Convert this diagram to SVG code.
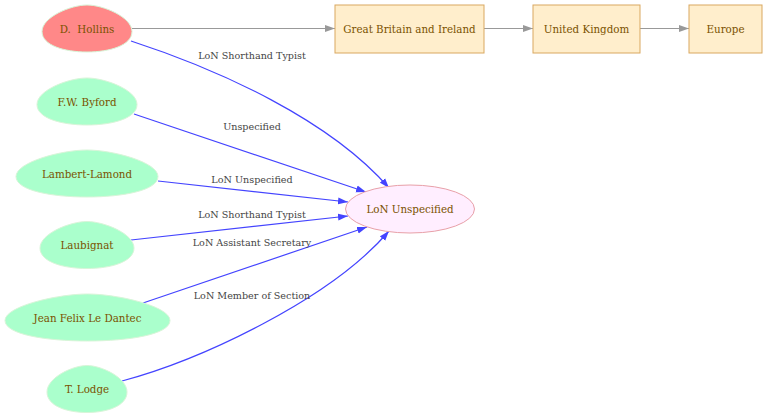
<svg xmlns="http://www.w3.org/2000/svg" width="767" height="419" viewBox="0 0 767 419">
<style>
.egg{stroke:#d8f5d8;stroke-width:1}
.person{fill:#aaffcc}
.red{fill:#ff8888}
.box{fill:#ffeecc;stroke:#d9a860;stroke-width:1}
.target{fill:#ffeeff;stroke:#e8a0a8;stroke-width:1}
.nt{font-family:"DejaVu Serif","Liberation Serif",serif;font-size:10.3px;fill:#7a5200;text-anchor:middle;dominant-baseline:central;white-space:pre}
.lbl{font-family:"DejaVu Serif","Liberation Serif",serif;font-size:9.6px;fill:#444;text-anchor:middle}
.blue{fill:none;stroke:#4444ff;stroke-width:1.2}
.gray{fill:none;stroke:#999999;stroke-width:1.2}
</style>
<defs>
<marker id="ab" markerWidth="10" markerHeight="8" refX="10" refY="4" orient="auto" markerUnits="userSpaceOnUse"><path d="M0,0.5 L10,4 L0,7.5 Z" fill="#4444ff"/></marker>
<marker id="ag" markerWidth="10" markerHeight="8" refX="10" refY="4" orient="auto" markerUnits="userSpaceOnUse"><path d="M0,0.5 L10,4 L0,7.5 Z" fill="#999999"/></marker>
</defs>
<g id="connectors">
<path class="gray" d="M132,28.5 L335,28.5" marker-end="url(#ag)"/>
<path class="gray" d="M484,28.5 L533,28.5" marker-end="url(#ag)"/>
<path class="gray" d="M640,28.5 L689,28.5" marker-end="url(#ag)"/>
<path class="blue" d="M131,41 C220,70 330,120 389,188" marker-end="url(#ab)"/>
<text class="lbl" x="252" y="59">LoN Shorthand Typist</text>
<path class="blue" d="M134,114 L366,192" marker-end="url(#ab)"/>
<text class="lbl" x="252" y="130">Unspecified</text>
<path class="blue" d="M158,181 L348,202" marker-end="url(#ab)"/>
<text class="lbl" x="252" y="183">LoN Unspecified</text>
<path class="blue" d="M131,240 L348,216" marker-end="url(#ab)"/>
<text class="lbl" x="252" y="218">LoN Shorthand Typist</text>
<path class="blue" d="M143,303 L367,227" marker-end="url(#ab)"/>
<text class="lbl" x="252" y="246">LoN Assistant Secretary</text>
<path class="blue" d="M122,381 C200,360 330,300 389,231" marker-end="url(#ab)"/>
<text class="lbl" x="252" y="299">LoN Member of Section</text>
</g>
<g id="hollins">
<path class="egg red" d="M42,31.5 C42,17 71,5 87,5 C103,5 132,17 132,31.5 C132,45.5 109.5,52 87,52 C64.5,52 42,45.5 42,31.5 Z"/>
<text class="nt" x="87" y="28.5" xml:space="preserve">D.  Hollins</text>
</g>
<g id="byford">
<path class="egg person" d="M37,104.5 C37,90 69,78 87,78 C105,78 137,90 137,104.5 C137,118.5 112,125 87,125 C62,125 37,118.5 37,104.5 Z"/>
<text class="nt" x="87" y="101.5">F.W. Byford</text>
</g>
<g id="lambert">
<path class="egg person" d="M16,176.5 C16,162 62,150 87,150 C112,150 158,162 158,176.5 C158,190.5 122.5,197 87,197 C51.5,197 16,190.5 16,176.5 Z"/>
<text class="nt" x="87" y="173.5">Lambert-Lamond</text>
</g>
<g id="laubignat">
<path class="egg person" d="M40,248 C40,233.5 70.5,221.5 87,221.5 C103.5,221.5 134,233.5 134,248 C134,262 110.5,268.5 87,268.5 C63.5,268.5 40,262 40,248 Z"/>
<text class="nt" x="87" y="245">Laubignat</text>
</g>
<g id="dantec">
<path class="egg person" d="M5,320.5 C5,306 58.5,294 87.5,294 C116.5,294 170,306 170,320.5 C170,334.5 128.75,341 87.5,341 C46.25,341 5,334.5 5,320.5 Z"/>
<text class="nt" x="87.5" y="317.5">Jean Felix Le Dantec</text>
</g>
<g id="lodge">
<path class="egg person" d="M47,392 C47,377.5 73,365.5 87,365.5 C101,365.5 127,377.5 127,392 C127,406 107,412.5 87,412.5 C67,412.5 47,406 47,392 Z"/>
<text class="nt" x="87" y="389">T. Lodge</text>
</g>
<g id="lon">
<ellipse class="target" cx="410" cy="209" rx="64.5" ry="24"/>
<text class="nt" x="410" y="209">LoN Unspecified</text>
</g>
<g id="gbi">
<rect class="box" x="335" y="5" width="149" height="48"/>
<text class="nt" x="409.5" y="28.5">Great Britain and Ireland</text>
</g>
<g id="uk">
<rect class="box" x="533" y="5" width="107" height="48"/>
<text class="nt" x="586.5" y="28.5">United Kingdom</text>
</g>
<g id="europe">
<rect class="box" x="689" y="5" width="73" height="48"/>
<text class="nt" x="725.5" y="28.5">Europe</text>
</g>
</svg>
